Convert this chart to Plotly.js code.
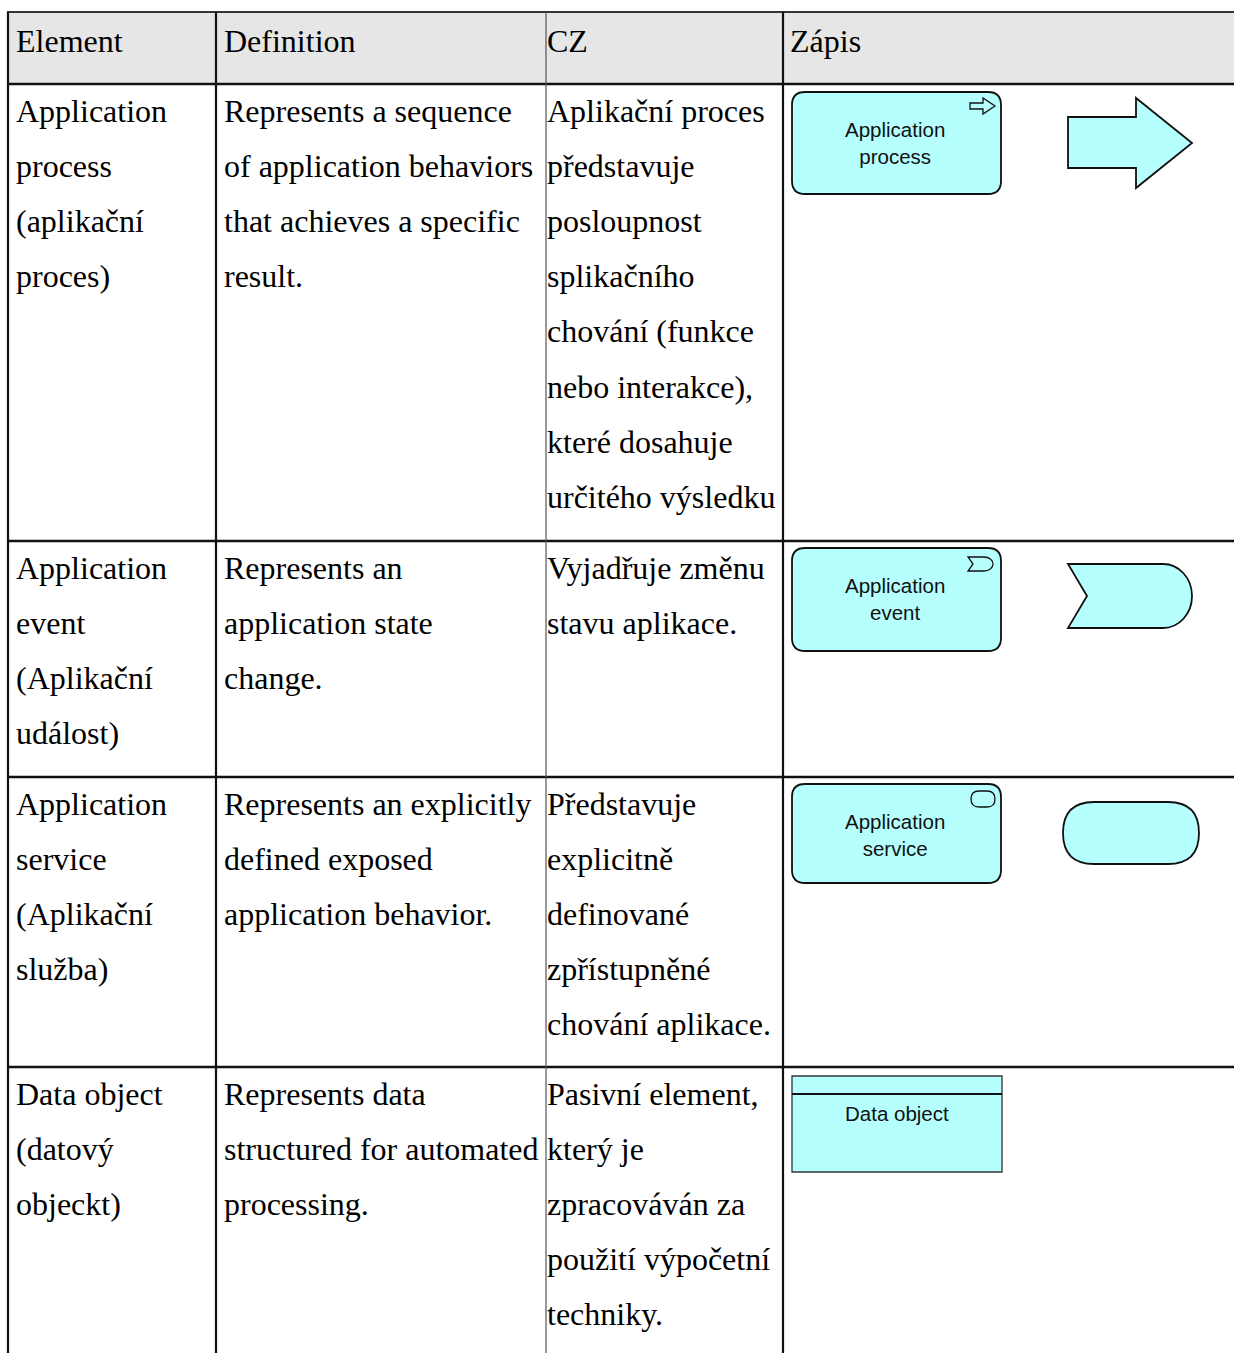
<!DOCTYPE html>
<html>
<head>
<meta charset="utf-8">
<script src="https://cdn.plot.ly/plotly-3.0.1.min.js"></script>
<style>html,body{margin:0;padding:0;background:#fff;}#chart{width:1234px;height:1353px;}</style>
</head>
<body>
<div id="chart"></div>
<script>
// ---- table content ----
const headers = ['Element', 'Definition', 'CZ', 'Zápis'];
const elementCol = [
  ['Application', 'process', '(aplikační', 'proces)'],
  ['Application', 'event', '(Aplikační', 'událost)'],
  ['Application', 'service', '(Aplikační', 'služba)'],
  ['Data object', '(datový', 'objeckt)']
];
const definitionCol = [
  ['Represents a sequence', 'of application behaviors', 'that achieves a specific', 'result.'],
  ['Represents an', 'application state', 'change.'],
  ['Represents an explicitly', 'defined exposed', 'application behavior.'],
  ['Represents data', 'structured for automated', 'processing.']
];
const czCol = [
  ['Aplikační proces', 'představuje', 'posloupnost', 'splikačního', 'chování (funkce', 'nebo interakce),', 'které dosahuje', 'určitého výsledku'],
  ['Vyjadřuje změnu', 'stavu aplikace.'],
  ['Představuje', 'explicitně', 'definované', 'zpřístupněné', 'chování aplikace.'],
  ['Pasivní element,', 'který je', 'zpracováván za', 'použití výpočetní', 'techniky.']
];
const notationLabels = ['Application<br>process', 'Application<br>event', 'Application<br>service', 'Data object'];
const notationKinds = ['process', 'event', 'service', 'data'];

// ---- layout geometry ----
const W = 1234, H = 1353;
const colX = [8, 216, 546, 783];
const textX = [17, 225, 548, 791];
const headTop = 12, headBottom = 84;
const rowTops = [84, 541, 777, 1067];
const lineGap = 55.1, firstOff = 27;
const FILL = '#b5ffff';
const serif = 'Liberation Serif, Times New Roman, serif';
const sans = 'Liberation Sans, Arial, sans-serif';

const shapes = [];
const annotations = [];

// header background
shapes.push({type: 'rect', xref: 'x', yref: 'y', x0: colX[0], x1: W + 5, y0: headTop, y1: headBottom,
  fillcolor: '#e6e6e6', line: {width: 0}, layer: 'below'});

// horizontal rules
[headTop, headBottom].concat(rowTops.slice(1)).forEach((y, i) => {
  shapes.push({type: 'line', xref: 'x', yref: 'y', x0: colX[0] - 1, x1: W + 5, y0: y, y1: y,
    line: {color: i === 0 ? '#333' : '#111', width: i === 0 ? 2 : 2.5}});
});
// vertical rules
colX.forEach((x, i) => {
  shapes.push({type: 'line', xref: 'x', yref: 'y', x0: x, x1: x, y0: headTop, y1: H + 5,
    line: {color: i === 2 ? '#555' : '#111', width: i === 2 ? 1.2 : 2.2}});
});

function txt(x, y, s, opts) {
  annotations.push(Object.assign({
    xref: 'x', yref: 'y', x: x, y: y, text: s, showarrow: false,
    xanchor: 'left', yanchor: 'middle', borderpad: 0,
    font: {family: serif, size: 32, color: '#000'}
  }, opts || {}));
}

// header text
headers.forEach((h, i) => txt(textX[i] - 2, 41, h));

// body text
[elementCol, definitionCol, czCol].forEach((col, ci) => {
  col.forEach((lines, ri) => {
    lines.forEach((s, li) => txt(textX[ci] - 2, rowTops[ri] + firstOff + li * lineGap, s));
  });
});

// ---- notation shapes ----
function rrect(x0, y0, x1, y1, r) {
  return `M${x0 + r},${y0} L${x1 - r},${y0} Q${x1},${y0} ${x1},${y0 + r} L${x1},${y1 - r} Q${x1},${y1} ${x1 - r},${y1} ` +
         `L${x0 + r},${y1} Q${x0},${y1} ${x0},${y1 - r} L${x0},${y0 + r} Q${x0},${y0} ${x0 + r},${y0} Z`;
}
function pathShape(p, fill, lw, lc) {
  shapes.push({type: 'path', xref: 'x', yref: 'y', path: p, fillcolor: fill || FILL,
    line: {color: lc || '#111', width: lw || 1.8}});
}

const boxes = [
  {y0: 92, y1: 194}, {y0: 548, y1: 651}, {y0: 784, y1: 883}, {y0: 1076, y1: 1172}
];
const bx0 = 792, bx1 = 1001;

notationKinds.forEach((k, i) => {
  const b = boxes[i];
  if (k === 'data') {
    shapes.push({type: 'rect', xref: 'x', yref: 'y', x0: bx0, x1: bx1 + 1, y0: b.y0, y1: b.y1,
      fillcolor: FILL, line: {color: '#333', width: 1.3}});
    shapes.push({type: 'line', xref: 'x', yref: 'y', x0: bx0, x1: bx1 + 1, y0: b.y0 + 18, y1: b.y0 + 18,
      line: {color: '#111', width: 2}});
    annotations.push({xref: 'x', yref: 'y', x: 897, y: b.y0 + 37, text: notationLabels[i], showarrow: false,
      xanchor: 'center', yanchor: 'middle', font: {family: sans, size: 20.5, color: '#111'}});
    return;
  }
  pathShape(rrect(bx0, b.y0, bx1, b.y1, 13));
  annotations.push({xref: 'x', yref: 'y', x: 895, y: b.y0 + 51, text: notationLabels[i], showarrow: false,
    xanchor: 'center', yanchor: 'middle', font: {family: sans, size: 20.5, color: '#111'}});
  if (k === 'process') {
    // small icon
    pathShape('M970,103 L983,103 L983,98 L995,106 L983,114 L983,109 L970,109 Z', FILL, 1.3);
    // large arrow
    pathShape('M1068,117 L1136,117 L1136,98 L1192,143 L1136,188 L1136,168 L1068,168 Z', FILL, 1.8);
  } else if (k === 'event') {
    pathShape('M968,557 L984,557 C989,557 993,560 993,564 C993,568 989,571 984,571 L968,571 L973,564 Z', FILL, 1.3);
    pathShape('M1068,564 L1163,564 C1179,564 1192,578 1192,596 C1192,614 1179,628 1163,628 L1068,628 L1087,596 Z', FILL, 1.8);
  } else if (k === 'service') {
    pathShape(rrect(971, 791, 995, 807, 8), FILL, 1.3);
    pathShape(rrect(1063, 802, 1199, 864, 31), FILL, 1.8);
  }
});

const layout = {
  width: W, height: H,
  margin: {l: 0, r: 0, t: 0, b: 0, pad: 0},
  paper_bgcolor: '#ffffff', plot_bgcolor: '#ffffff',
  xaxis: {range: [0, W], visible: false, fixedrange: true},
  yaxis: {range: [H, 0], visible: false, fixedrange: true},
  showlegend: false,
  shapes: shapes,
  annotations: annotations
};

Plotly.newPlot('chart', [{x: [], y: [], type: 'scatter', hoverinfo: 'skip'}], layout,
  {staticPlot: true, displayModeBar: false});
</script>
</body>
</html>
